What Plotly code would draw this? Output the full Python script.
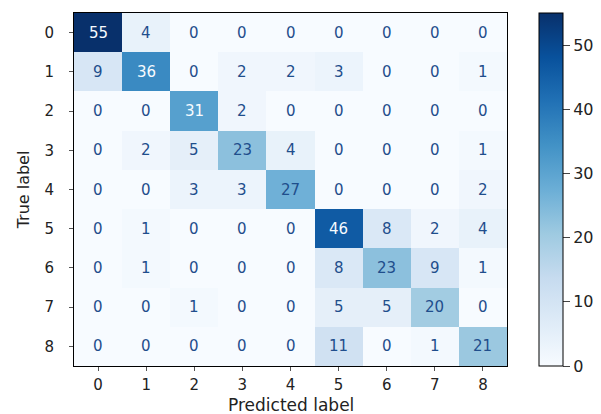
import plotly.graph_objects as go

# Class labels and confusion-matrix counts (rows: true, cols: predicted)
labels = ["0", "1", "2", "3", "4", "5", "6", "7", "8"]
counts = [
    [55, 4, 0, 0, 0, 0, 0, 0, 0],
    [9, 36, 0, 2, 2, 3, 0, 0, 1],
    [0, 0, 31, 2, 0, 0, 0, 0, 0],
    [0, 2, 5, 23, 4, 0, 0, 0, 1],
    [0, 0, 3, 3, 27, 0, 0, 0, 2],
    [0, 1, 0, 0, 0, 46, 8, 2, 4],
    [0, 1, 0, 0, 0, 8, 23, 9, 1],
    [0, 0, 1, 0, 0, 5, 5, 20, 0],
    [0, 0, 0, 0, 0, 11, 0, 1, 21],
]
cbar_ticks = [0, 10, 20, 30, 40, 50]

blues = [
    [0.0, "#f7fbff"], [0.125, "#deebf7"], [0.25, "#c6dbef"],
    [0.375, "#9ecae1"], [0.5, "#6baed6"], [0.625, "#4292c6"],
    [0.75, "#2171b5"], [0.875, "#08519c"], [1.0, "#08306b"],
]

zmin = min(min(r) for r in counts)
zmax = max(max(r) for r in counts)
thresh = (zmax + zmin) / 2.0

font = "DejaVu Sans, Liberation Sans, sans-serif"

fig = go.Figure(
    go.Heatmap(
        z=counts,
        x=list(range(len(labels))),
        y=list(range(len(labels))),
        colorscale=blues,
        zmin=zmin,
        zmax=zmax,
        colorbar=dict(
            x=1.074,
            xanchor="left",
            xpad=0,
            ypad=0,
            y=0.5,
            yanchor="middle",
            len=1.0,
            lenmode="fraction",
            thickness=24,
            outlinecolor="black",
            outlinewidth=1,
            tickvals=cbar_ticks,
            ticks="outside",
            ticklen=7,
            tickcolor="#444",
            tickfont=dict(family=font, size=16, color="#222"),
        ),
        hoverinfo="skip",
    )
)

annotations = []
for i, row in enumerate(counts):
    for j, v in enumerate(row):
        annotations.append(
            dict(
                x=j, y=i, xref="x", yref="y",
                text=str(v), showarrow=False,
                font=dict(family=font, size=15,
                          color="#f7fbff" if v > thresh else "#1f4e8c"),
            )
        )

# x-axis title placed just under the tick labels
annotations.append(
    dict(
        text="Predicted label", showarrow=False,
        xref="paper", yref="paper", x=0.5, y=0,
        yanchor="top", yshift=-27,
        font=dict(family=font, size=17, color="#222"),
    )
)

fig.update_layout(
    width=601,
    height=414,
    margin=dict(l=74, r=94, t=13, b=48, autoexpand=False),
    paper_bgcolor="white",
    plot_bgcolor="white",
    font=dict(family=font, size=15, color="#222"),
    annotations=annotations,
    xaxis=dict(
        tickvals=list(range(len(labels))),
        ticktext=labels,
        range=[-0.5, len(labels) - 0.5],
        automargin=False,
        ticks="outside",
        ticklen=4,
        tickcolor="#555",
        ticklabelstandoff=1,
        tickfont=dict(family=font, size=15),
        showline=True,
        linecolor="black",
        linewidth=1,
        mirror=True,
        showgrid=False,
        zeroline=False,
    ),
    yaxis=dict(
        tickvals=list(range(len(labels))),
        ticktext=labels,
        range=[len(labels) - 0.5, -0.5],
        automargin=False,
        ticks="outside",
        ticklen=4,
        tickcolor="#555",
        ticklabelstandoff=12,
        tickfont=dict(family=font, size=15),
        showline=True,
        linecolor="black",
        linewidth=1,
        mirror=True,
        showgrid=False,
        zeroline=False,
        title=dict(text="True label", standoff=10,
                   font=dict(family=font, size=16)),
    ),
)

fig.write_html("out.html")
